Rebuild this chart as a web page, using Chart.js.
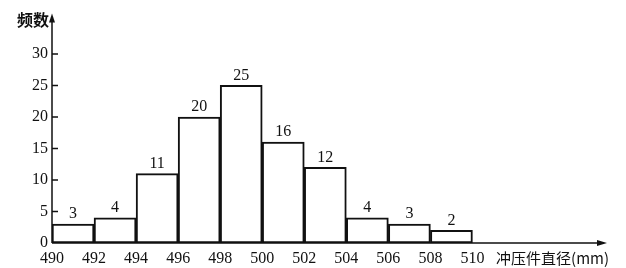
<!DOCTYPE html>
<html>
<head>
<meta charset="utf-8">
<script src="https://cdn.jsdelivr.net/npm/chart.js@4/dist/chart.umd.min.js"></script>
<style>
    html, body { margin: 0; padding: 0; background: #fff; }
    #wrap { width: 626px; height: 268px; }
</style>
</head>
<body>
<div id="wrap"><canvas id="histChart" width="626" height="268"></canvas></div>
<script>
// Data
const binStarts = [490, 492, 494, 496, 498, 500, 502, 504, 506, 508];
const binWidth = 2;
const counts = [3, 4, 11, 20, 25, 16, 12, 4, 3, 2];
const xTicks = [490, 492, 494, 496, 498, 500, 502, 504, 506, 508, 510];
const yTicks = [0, 5, 10, 15, 20, 25, 30];
const yTitle = '频数';
const xTitle = '冲压件直径(mm)';

const ink = '#111';
const serif = '"Liberation Serif", "DejaVu Serif", serif';
const cjk = '"Noto Sans CJK SC", sans-serif';

// Axes with arrow heads, inward y ticks, titles, values on bars
const decorPlugin = {
    id: 'decor',
    afterDatasetsDraw(chart) {
        const ctx = chart.ctx;
        const area = chart.chartArea;
        const yScale = chart.scales.y;
        const ox = area.left, oy = yScale.getPixelForValue(0);

        ctx.save();
        ctx.strokeStyle = ink;
        ctx.fillStyle = ink;
        ctx.lineWidth = 1.5;

        // axis lines
        ctx.beginPath();
        ctx.moveTo(ox, oy);
        ctx.lineTo(ox, area.top + 6);
        ctx.moveTo(ox, oy);
        ctx.lineTo(area.right - 8, oy);
        ctx.stroke();

        // arrow heads
        ctx.beginPath();
        ctx.moveTo(ox, area.top);
        ctx.lineTo(ox - 3, area.top + 9);
        ctx.lineTo(ox + 3, area.top + 9);
        ctx.closePath();
        ctx.fill();
        ctx.beginPath();
        ctx.moveTo(area.right, oy);
        ctx.lineTo(area.right - 10, oy - 3);
        ctx.lineTo(area.right - 10, oy + 3);
        ctx.closePath();
        ctx.fill();

        // inward ticks on y axis
        ctx.beginPath();
        yTicks.forEach(v => {
            if (v === 0) return;
            const py = yScale.getPixelForValue(v);
            ctx.moveTo(ox, py);
            ctx.lineTo(ox + 6, py);
        });
        ctx.stroke();

        // values above bars
        ctx.font = '16px ' + serif;
        ctx.textAlign = 'center';
        ctx.textBaseline = 'bottom';
        const meta = chart.getDatasetMeta(0);
        meta.data.forEach((bar, i) => {
            ctx.fillText(String(counts[i]), bar.x, bar.y - 2);
        });

        // axis titles
        ctx.font = 'bold 16px ' + cjk;
        ctx.textAlign = 'right';
        ctx.textBaseline = 'middle';
        ctx.fillText(yTitle, ox - 3, area.top + 6);

        ctx.font = '15px ' + cjk;
        ctx.textAlign = 'right';
        ctx.fillText(xTitle, area.right + 2, oy + 15);
        ctx.restore();
    }
};

new Chart(document.getElementById('histChart'), {
    type: 'bar',
    data: {
        datasets: [{
            data: binStarts.map((s, i) => ({ x: s + binWidth / 2, y: counts[i] })),
            backgroundColor: '#ffffff',
            borderColor: ink,
            borderWidth: 2,
            borderSkipped: false,
            barPercentage: 1,
            categoryPercentage: 1
        }]
    },
    options: {
        responsive: false,
        animation: false,
        layout: { padding: { top: 12, right: 19, left: 0, bottom: 0 } },
        plugins: {
            legend: { display: false },
            tooltip: { enabled: false }
        },
        scales: {
            x: {
                type: 'linear',
                offset: false,
                min: 490,
                max: 516.4,
                grid: { display: false, drawTicks: false, offset: false },
                border: { display: false },
                afterBuildTicks: scale => { scale.ticks = xTicks.map(v => ({ value: v })); },
                afterFit: scale => { scale.height = 25; },
                ticks: {
                    color: ink,
                    padding: 6,
                    maxRotation: 0,
                    autoSkip: false,
                    font: { family: serif, size: 16 },
                    callback: v => String(v)
                }
            },
            y: {
                min: 0,
                max: 36.4,
                grid: { display: false, drawTicks: false },
                border: { display: false },
                afterBuildTicks: scale => { scale.ticks = yTicks.map(v => ({ value: v })); },
                afterFit: scale => { scale.width = 52; },
                ticks: {
                    color: ink,
                    padding: 4,
                    autoSkip: false,
                    font: { family: serif, size: 16 },
                    callback: v => String(v)
                }
            }
        }
    },
    plugins: [decorPlugin]
});
</script>
</body>
</html>
